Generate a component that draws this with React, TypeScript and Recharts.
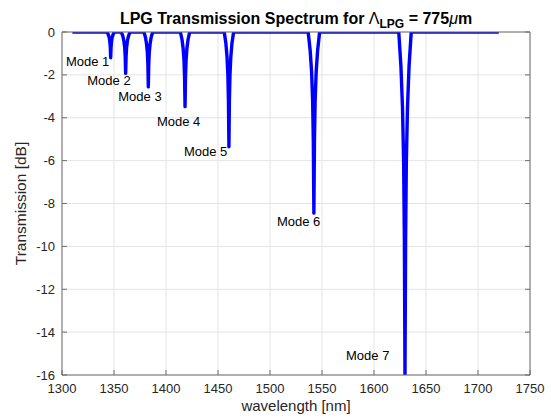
import React from "react";
import { LineChart, Line, XAxis, YAxis, CartesianGrid, ReferenceDot } from "recharts";

// Wavelength sweep limits (nm); transmission is flat (0 dB) outside the dips
const sweepWl = [1310, 1720];

// Resonance dips, wavelength [nm] and transmission [dB]
const mode1Wl = [1343.3, 1344.5, 1345.4, 1346.0, 1346.45, 1346.8, 1347.15, 1347.6, 1348.2, 1349.1, 1350.3];
const mode1Db = [0, -0.12, -0.26, -0.46, -0.72, -1.2, -0.72, -0.46, -0.26, -0.12, 0];

const mode2Wl = [1357.0, 1358.5, 1359.5, 1360.3, 1360.8, 1361.2, 1361.6, 1362.1, 1362.9, 1363.9, 1365.4];
const mode2Db = [0, -0.19, -0.42, -0.73, -1.16, -1.93, -1.16, -0.73, -0.42, -0.19, 0];

const mode3Wl = [1378.8, 1380.3, 1381.3, 1382.1, 1382.6, 1383.0, 1383.4, 1383.9, 1384.7, 1385.7, 1387.2];
const mode3Db = [0, -0.26, -0.56, -0.97, -1.54, -2.56, -1.54, -0.97, -0.56, -0.26, 0];

const mode4Wl = [1413.8, 1415.4, 1416.5, 1417.3, 1417.85, 1418.3, 1418.75, 1419.3, 1420.1, 1421.2, 1422.8];
const mode4Db = [0, -0.35, -0.77, -1.32, -2.09, -3.48, -2.09, -1.32, -0.77, -0.35, 0];

const mode5Wl = [1456.0, 1457.6, 1458.7, 1459.5, 1460.05, 1460.5, 1460.95, 1461.5, 1462.3, 1463.4, 1465.0];
const mode5Db = [0, -0.54, -1.18, -2.03, -3.21, -5.35, -3.21, -2.03, -1.18, -0.54, 0];

const mode6Wl = [1536.7, 1538.6, 1540.0, 1541.0, 1541.65, 1542.2, 1542.75, 1543.4, 1544.4, 1545.8, 1547.7];
const mode6Db = [0, -0.85, -1.86, -3.21, -5.07, -8.45, -5.07, -3.21, -1.86, -0.85, 0];

const mode7Wl = [1623.8, 1625.9, 1627.4, 1628.5, 1629.2, 1629.8, 1630.4, 1631.1, 1632.2, 1633.7, 1635.8];
const mode7Db = [0, -1.6, -3.52, -6.08, -9.6, -16, -9.6, -6.08, -3.52, -1.6, 0];

// Text annotations, anchored in data coordinates (wavelength, dB)
const modeNames = ["Mode 1", "Mode 2", "Mode 3", "Mode 4", "Mode 5", "Mode 6", "Mode 7"];
const modeLabelWl = [1303.8, 1324.3, 1354.1, 1391.3, 1417.3, 1506.7, 1573.1];
const modeLabelDb = [-1.39, -2.24, -3.02, -4.18, -5.58, -8.82, -15.07];

// Axis ticks
const xTicks = [1300, 1350, 1400, 1450, 1500, 1550, 1600, 1650, 1700, 1750];
const yTicks = [0, -2, -4, -6, -8, -10, -12, -14, -16];

const dips: [number[], number[]][] = [
  [mode1Wl, mode1Db],
  [mode2Wl, mode2Db],
  [mode3Wl, mode3Db],
  [mode4Wl, mode4Db],
  [mode5Wl, mode5Db],
  [mode6Wl, mode6Db],
  [mode7Wl, mode7Db],
];

const spectrum: { w: number; t: number }[] = [{ w: sweepWl[0], t: 0 }];
dips.forEach(([wl, db]) => wl.forEach((w, i) => spectrum.push({ w, t: db[i] })));
spectrum.push({ w: sweepWl[1], t: 0 });

const FONT = "'Liberation Sans', Arial, Helvetica, sans-serif";
const AXIS_COLOR = "#6e6e6e";
const TEXT_COLOR = "#262626";
const TICK_LEN = 5;
const W = 551;
const H = 418;
// Plot box: x 62..530, y 32..375
const M = { top: 31, right: 20, bottom: 13, left: 22 };
const X_AXIS_H = 30;
const Y_AXIS_W = 40;

const BottomTick = (props: any) => {
  const { x, y, payload } = props;
  return (
    <g>
      <line x1={x} y1={y} x2={x} y2={y - TICK_LEN} stroke={AXIS_COLOR} strokeWidth={1} />
      <text x={x} y={y + 18} textAnchor="middle" fontSize={13} fontFamily={FONT} fill={TEXT_COLOR}>
        {payload.value}
      </text>
    </g>
  );
};

const TopTick = (props: any) => {
  const { x, y } = props;
  return <line x1={x} y1={y} x2={x} y2={y + TICK_LEN} stroke={AXIS_COLOR} strokeWidth={1} />;
};

const LeftTick = (props: any) => {
  const { x, y, payload } = props;
  return (
    <g>
      <line x1={x} y1={y} x2={x + TICK_LEN} y2={y} stroke={AXIS_COLOR} strokeWidth={1} />
      <text x={x - 7} y={y} dy="0.35em" textAnchor="end" fontSize={13} fontFamily={FONT} fill={TEXT_COLOR}>
        {payload.value}
      </text>
    </g>
  );
};

const RightTick = (props: any) => {
  const { x, y } = props;
  return <line x1={x} y1={y} x2={x - TICK_LEN} y2={y} stroke={AXIS_COLOR} strokeWidth={1} />;
};

const ModeLabel = (text: string) => (props: any) => (
  <text x={props.cx} y={props.cy} dy="0.35em" fontSize={13} fontFamily={FONT} fill="#000">
    {text}
  </text>
);

export default function App() {
  const plotLeft = M.left + Y_AXIS_W;
  const plotRight = W - M.right - 1;
  const plotTop = M.top + 1;
  const plotBottom = H - M.bottom - X_AXIS_H;
  const plotCx = (plotLeft + plotRight) / 2;
  const plotCy = (plotTop + plotBottom) / 2;
  return (
    <div style={{ position: "absolute", left: 0, top: 0, width: W, height: H, background: "#fff" }}>
      <LineChart width={W} height={H} data={spectrum} margin={M}>
        <CartesianGrid stroke="#e4e4e4" strokeWidth={1} />
        <XAxis
          dataKey="w"
          type="number"
          domain={[1300, 1750]}
          ticks={xTicks}
          interval={0}
          height={X_AXIS_H}
          tickSize={0}
          tickMargin={0}
          tick={<BottomTick />}
          axisLine={{ stroke: AXIS_COLOR }}
          tickLine={false}
          allowDataOverflow
        />
        <XAxis
          xAxisId="top"
          orientation="top"
          type="number"
          domain={[1300, 1750]}
          ticks={xTicks}
          interval={0}
          height={1}
          tickSize={0}
          tickMargin={0}
          tick={<TopTick />}
          axisLine={{ stroke: AXIS_COLOR }}
          tickLine={false}
          allowDataOverflow
        />
        <YAxis
          type="number"
          domain={[-16, 0]}
          ticks={yTicks}
          interval={0}
          width={Y_AXIS_W}
          tickSize={0}
          tickMargin={0}
          tick={<LeftTick />}
          axisLine={{ stroke: AXIS_COLOR }}
          tickLine={false}
          allowDataOverflow
        />
        <YAxis
          yAxisId="right"
          orientation="right"
          type="number"
          domain={[-16, 0]}
          ticks={yTicks}
          interval={0}
          width={1}
          tickSize={0}
          tickMargin={0}
          tick={<RightTick />}
          axisLine={{ stroke: AXIS_COLOR }}
          tickLine={false}
          allowDataOverflow
        />
        <Line
          type="linear"
          dataKey="t"
          stroke="#0000ff"
          strokeWidth={3.4}
          dot={false}
          isAnimationActive={false}
          strokeLinejoin="round"
        />
        {modeNames.map((name, i) => (
          <ReferenceDot
            key={name}
            x={modeLabelWl[i]}
            y={modeLabelDb[i]}
            r={0}
            ifOverflow="visible"
            shape={ModeLabel(name)}
          />
        ))}
      </LineChart>
      <svg width={W} height={H} style={{ position: "absolute", left: 0, top: 0, pointerEvents: "none" }}>
        <text x={plotCx} y={24} textAnchor="middle" fontSize={16} fontWeight="bold" fontFamily={FONT} fill="#000">
          <tspan>LPG Transmission Spectrum for </tspan>
          <tspan fontWeight="normal">Λ</tspan>
          <tspan dy={4} fontSize={12}>LPG</tspan>
          <tspan dy={-4}> = 775</tspan>
          <tspan fontWeight="normal" fontStyle="italic">μ</tspan>
          <tspan>m</tspan>
        </text>
        <text x={plotCx} y={411} textAnchor="middle" fontSize={15} fontFamily={FONT} fill={TEXT_COLOR}>
          wavelength [nm]
        </text>
        <text
          x={21}
          y={plotCy}
          dy="0.35em"
          textAnchor="middle"
          fontSize={15.5}
          fontFamily={FONT}
          fill={TEXT_COLOR}
          transform={`rotate(-90, 21, ${plotCy})`}
        >
          Transmission [dB]
        </text>
      </svg>
    </div>
  );
}
